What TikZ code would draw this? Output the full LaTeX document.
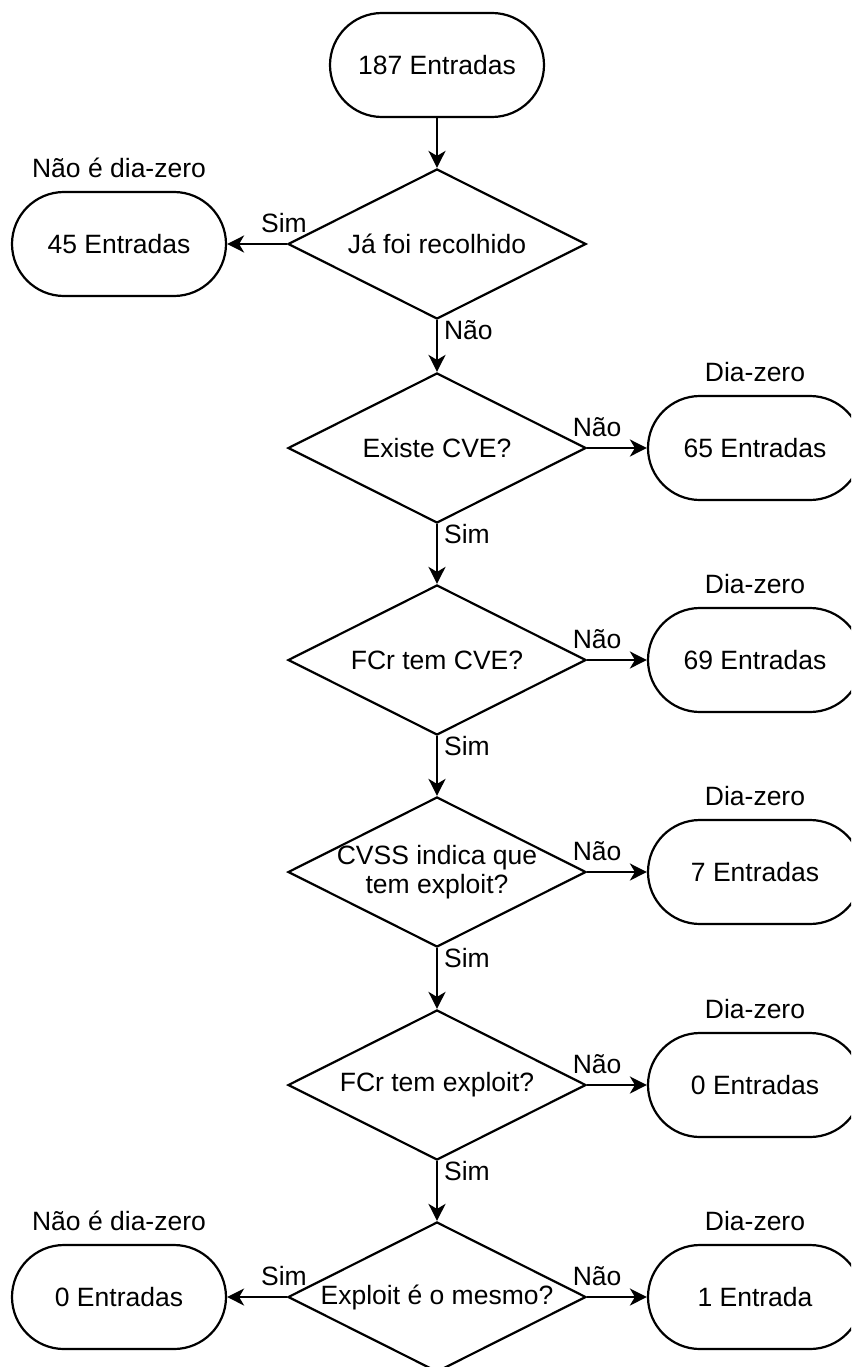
\documentclass[tikz,border=0pt]{standalone}
\usepackage{fontspec}
\setmainfont{Liberation Sans}
\usetikzlibrary{shapes.geometric,arrows.meta}

\begin{document}
\begin{tikzpicture}[x=1pt,y=-1pt,
  font=\fontsize{26.5}{29.5}\selectfont,
  line width=2.2pt,
  term/.style={draw, rectangle, rounded corners=52pt,
    minimum width=214pt, minimum height=104pt, inner sep=0pt},
  dec/.style={draw, diamond, shape aspect=2, minimum width=298pt,
    minimum height=150pt, inner sep=0pt, align=center},
  arr/.style={-{Stealth[length=17pt,width=17pt,inset=5pt]}},
  lbl/.style={inner sep=0pt, text depth=0pt},
  head/.style={label={[lbl, label distance=12pt]above:#1}},
  sideL/.style={lbl, pos=0, anchor=base, xshift=-3pt, yshift=12pt},
  sideR/.style={lbl, pos=0, anchor=base, xshift=10pt, yshift=12pt},
  below/.style={lbl, pos=0, anchor=base west, xshift=6pt, yshift=-19pt}]
\useasboundingbox (0,0) rectangle (851,1367);
\clip (0,0) rectangle (851,1367);

% main column of decisions
\node[term] (start) at (437,65) {187 Entradas};
\node[dec] (d1) at (437,244) {Já foi recolhido};
\node[dec] (d2) at (437,448) {Existe CVE?};
\node[dec] (d3) at (437,660) {FCr tem CVE?};
% two-line question: negative padding keeps the diamond at its fixed size
\node[dec, inner sep=-14pt] (d4) at (437,872) {CVSS indica que\\tem exploit?};
\node[dec] (d5) at (437,1085) {FCr tem exploit?};
\node[dec] (d6) at (437,1297) {Exploit é o mesmo?};

% outcomes
\node[term, head={Não é dia-zero}] (t1) at (119,244) {45 Entradas};
\node[term, head={Dia-zero}] (t2) at (755,448) {65 Entradas};
\node[term, head={Dia-zero}] (t3) at (755,660) {69 Entradas};
\node[term, head={Dia-zero}] (t4) at (755,872) {7 Entradas};
\node[term, head={Dia-zero}] (t5) at (755,1085) {0 Entradas};
\node[term, head={Não é dia-zero}] (t6) at (119,1297) {0 Entradas};
\node[term, head={Dia-zero}] (t7) at (755,1297) {1 Entrada};

% flow
\draw[arr] (start) -- (d1);
\draw[arr] (d1.west) -- node[sideL] {Sim} (t1.east);
\draw[arr] (d1.south) -- node[below] {Não} (d2.north);
\draw[arr] (d2.east) -- node[sideR] {Não} (t2.west);
\draw[arr] (d2.south) -- node[below] {Sim} (d3.north);
\draw[arr] (d3.east) -- node[sideR] {Não} (t3.west);
\draw[arr] (d3.south) -- node[below] {Sim} (d4.north);
\draw[arr] (d4.east) -- node[sideR] {Não} (t4.west);
\draw[arr] (d4.south) -- node[below] {Sim} (d5.north);
\draw[arr] (d5.east) -- node[sideR] {Não} (t5.west);
\draw[arr] (d5.south) -- node[below] {Sim} (d6.north);
\draw[arr] (d6.west) -- node[sideL] {Sim} (t6.east);
\draw[arr] (d6.east) -- node[sideR] {Não} (t7.west);
\end{tikzpicture}
\end{document}
